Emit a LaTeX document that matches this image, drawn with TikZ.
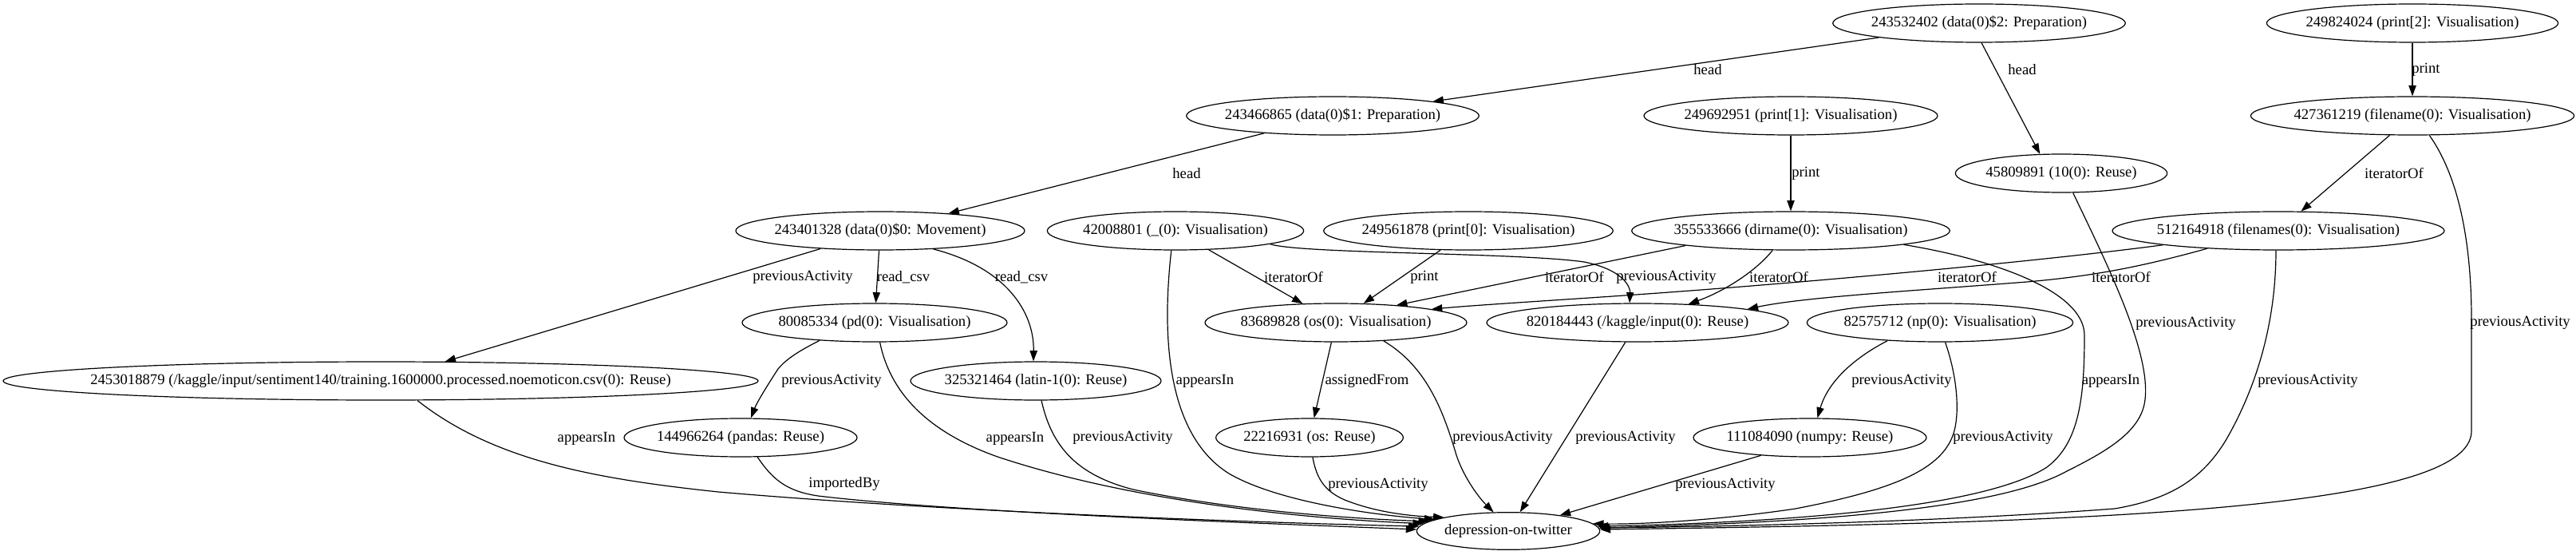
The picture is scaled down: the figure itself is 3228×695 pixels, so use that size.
\documentclass[tikz,border=0pt]{standalone}
\usepackage{fontspec}
\setmainfont{Liberation Serif}
\usetikzlibrary{arrows.meta,shapes.geometric}
\newcommand{\gvt}[1]{\makebox[0pt]{#1}}
\begin{document}
\begin{tikzpicture}[x=0.75pt,y=-0.75pt,
  every node/.style={font=\fontsize{14pt}{16pt}\selectfont},
  gv/.style={draw, ellipse, inner sep=0pt, minimum height=36pt, line width=0.9pt},
  lbl/.style={inner sep=0pt},
  arr/.style={-{Triangle[length=10pt,width=7pt]}, line width=0.9pt}]
\useasboundingbox (0,0) rectangle (3228,695);

% nodes
\node[gv, minimum width=275pt] (A) at (2480,29) {\gvt{243532402 (data(0)\$2: Preparation)}};
\node[gv, minimum width=274pt] (B) at (3023,29) {\gvt{249824024 (print[2]: Visualisation)}};
\node[gv, minimum width=275pt] (C) at (1670,145) {\gvt{243466865 (data(0)\$1: Preparation)}};
\node[gv, minimum width=276pt] (D) at (2244,145) {\gvt{249692951 (print[1]: Visualisation)}};
\node[gv, minimum width=304pt] (E) at (3023,145) {\gvt{427361219 (filename(0): Visualisation)}};
\node[gv, minimum width=199pt] (F) at (2583,217) {\gvt{45809891 (10(0): Reuse)}};
\node[gv, minimum width=271.5pt] (G) at (1103,289) {\gvt{243401328 (data(0)\$0: Movement)}};
\node[gv, minimum width=241pt] (H) at (1473,289) {\gvt{42008801 (\_(0): Visualisation)}};
\node[gv, minimum width=272pt] (I) at (1840,289) {\gvt{249561878 (print[0]: Visualisation)}};
\node[gv, minimum width=299pt] (J) at (2244,289) {\gvt{355533666 (dirname(0): Visualisation)}};
\node[gv, minimum width=312pt] (K) at (2855,289) {\gvt{512164918 (filenames(0): Visualisation)}};
\node[gv, minimum width=249pt] (L) at (1096,404) {\gvt{80085334 (pd(0): Visualisation)}};
\node[gv, minimum width=709.5pt] (M) at (477,477) {\gvt{2453018879 (/kaggle/input/sentiment140/training.1600000.processed.noemoticon.csv(0): Reuse)}};
\node[gv, minimum width=246pt] (N) at (1674,404) {\gvt{83689828 (os(0): Visualisation)}};
\node[gv, minimum width=283.5pt] (O) at (2052,404) {\gvt{820184443 (/kaggle/input(0): Reuse)}};
\node[gv, minimum width=250pt] (P) at (2431,404) {\gvt{82575712 (np(0): Visualisation)}};
\node[gv, minimum width=235.5pt] (Q) at (1298,477) {\gvt{325321464 (latin-1(0): Reuse)}};
\node[gv, minimum width=219pt] (R) at (928,548) {\gvt{144966264 (pandas: Reuse)}};
\node[gv, minimum width=176pt] (S) at (1641,548) {\gvt{22216931 (os: Reuse)}};
\node[gv, minimum width=219pt] (T) at (2268,548) {\gvt{111084090 (numpy: Reuse)}};
\node[gv, minimum width=172pt, minimum height=35pt] (Z) at (1890,665) {\gvt{depression-on-twitter}};

% edges
\draw[arr] (A) -- (C);
\draw[arr] (A.-83) -- (F.138);
\draw[arr] (B) -- (E);
\draw[arr] (C) -- (G);
\draw[arr] (D) -- (J);
\draw[arr] (E) -- (K);
\draw[arr] (E.-49) .. controls (3080,220) and (3097,300) .. (3097,400) -- (3097,540) .. controls (3097,640) and (2600,655) .. (Z.1);
\draw[arr] (F.-59) .. controls (2640,330) and (2695,440) .. (2688,500) .. controls (2684,540) and (2640,565) .. (2590,590) .. controls (2500,640) and (2250,655) .. (Z.2);
\draw[arr] (G) -- (M);
\draw[arr] (G) -- (L);
\draw[arr] (G.-19) .. controls (1260,335) and (1296,390) .. (Q.97);
\draw[arr] (H) -- (N);
\draw[arr] (H.-102) .. controls (1458,400) and (1455,540) .. (1540,593) .. controls (1600,628) and (1720,645) .. (Z.171);
\draw[arr] (H.-8) .. controls (1630,318) and (1900,316) .. (1985,328) .. controls (2035,338) and (2043,360) .. (O.112);
\draw[arr] (I) -- (N);
\draw[arr] (J.188) -- (N.16);
\draw[arr] (J.227) .. controls (2200,340) and (2160,365) .. (O.20);
\draw[arr] (K.187) .. controls (2550,328) and (2250,355) .. (2050,369) .. controls (1950,376) and (1850,382) .. (N.8);
\draw[arr] (K.194) .. controls (2680,335) and (2620,346) .. (2540,353) .. controls (2400,364) and (2260,372) .. (O.7);
\draw[arr] (J.-7) .. controls (2500,325) and (2612,365) .. (2612,420) .. controls (2612,500) and (2605,555) .. (2565,585) .. controls (2480,640) and (2200,655) .. (Z.3);
\draw[arr] (K.-97) .. controls (2852,400) and (2830,480) .. (2790,550) .. controls (2760,600) and (2720,625) .. (2650,637) .. controls (2450,652) and (2200,659) .. (Z.2);
\draw[arr] (L.198) .. controls (1000,440) and (985,450) .. (975,462) .. controls (960,485) and (948,505) .. (R.62);
\draw[arr] (L.-75) .. controls (1115,490) and (1160,540) .. (1250,572) .. controls (1400,622) and (1600,648) .. (Z.175);
\draw[arr] (M.-28) .. controls (620,578) and (750,600) .. (900,616) .. controls (1200,642) and (1600,655) .. (Z.177);
\draw[arr] (N) -- (S);
\draw[arr] (N.-21) .. controls (1790,460) and (1810,520) .. (1825,570) .. controls (1835,600) and (1855,625) .. (Z.128);
\draw[arr] (O) -- (Z);
\draw[arr] (P.199) .. controls (2320,450) and (2290,480) .. (T.69);
\draw[arr] (P.-75) .. controls (2452,470) and (2455,510) .. (2450,535) .. controls (2440,585) and (2380,612) .. (2250,637) .. controls (2150,652) and (2050,657) .. (Z.5);
\draw[arr] (Q.-74) .. controls (1318,560) and (1350,595) .. (1420,613) .. controls (1550,640) and (1700,650) .. (Z.173);
\draw[arr] (R.-49) .. controls (968,600) and (985,615) .. (1025,621) .. controls (1200,642) and (1600,656) .. (Z.179);
\draw[arr] (S.-81) .. controls (1650,600) and (1660,615) .. (1685,626) .. controls (1720,640) and (1760,646) .. (Z.168);
\draw[arr] (T.200) -- (Z.17);

% edge labels
\node[lbl] (l1) at (2140,87) {head};
\node[lbl] (l2) at (2534,87) {head};
\node[lbl] (l3) at (3040,87) {print};
\node[lbl] (l4) at (1487,217) {head};
\node[lbl] (l5) at (2263,217) {print};
\node[lbl] (l6) at (3000,217) {iteratorOf};
\node[lbl] (l7) at (3158,404) {previousActivity};
\node[lbl] (l8) at (2739,405) {previousActivity};
\node[lbl] (l9) at (1006,347) {previousActivity};
\node[lbl] (l10) at (1132,347) {read\_csv};
\node[lbl] (l11) at (1280,347) {read\_csv};
\node[lbl] (l12) at (1621,347) {iteratorOf};
\node[lbl] (l13) at (1510,477) {appearsIn};
\node[lbl] (l14) at (2088,347) {previousActivity};
\node[lbl] (l15) at (1785,347) {print};
\node[lbl] (l16) at (1973,347) {iteratorOf};
\node[lbl] (l17) at (2229,347) {iteratorOf};
\node[lbl] (l18) at (2465,347) {iteratorOf};
\node[lbl] (l19) at (2658,347) {iteratorOf};
\node[lbl] (l20) at (2645,477) {appearsIn};
\node[lbl] (l21) at (2892,477) {previousActivity};
\node[lbl] (l22) at (1042,477) {previousActivity};
\node[lbl] (l23) at (1272,549) {appearsIn};
\node[lbl] (l24) at (735,549) {appearsIn};
\node[lbl] (l25) at (1713,477) {assignedFrom};
\node[lbl] (l26) at (1883,548) {previousActivity};
\node[lbl] (l27) at (2037,548) {previousActivity};
\node[lbl] (l28) at (2383,477) {previousActivity};
\node[lbl] (l29) at (2510,548) {previousActivity};
\node[lbl] (l30) at (1407,548) {previousActivity};
\node[lbl] (l31) at (1058,606) {importedBy};
\node[lbl] (l32) at (1727,607) {previousActivity};
\node[lbl] (l33) at (2162,607) {previousActivity};
\end{tikzpicture}
\end{document}
